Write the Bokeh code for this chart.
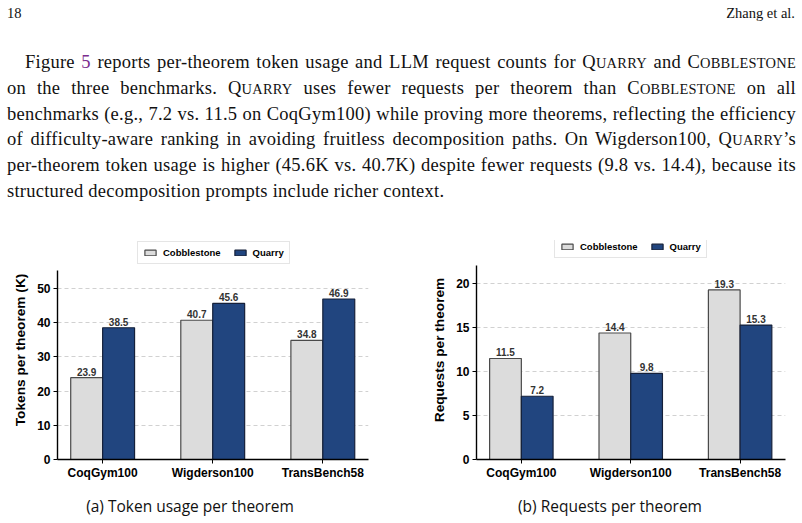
from bokeh.plotting import figure
from bokeh.models import (Range1d, FixedTicker, ColumnDataSource, LabelSet, Legend,
                          LegendItem, Div)
from bokeh.layouts import column, row
from bokeh.transform import dodge
from bokeh.core.properties import value
from bokeh.embed import file_html
from bokeh.resources import INLINE

# ---------------- data ----------------
benchmarks = ["CoqGym100", "Wigderson100", "TransBench58"]
series = ["Cobblestone", "Quarry"]
tokens_cobblestone = [23.9, 40.7, 34.8]
tokens_quarry = [38.5, 45.6, 46.9]
requests_cobblestone = [11.5, 14.4, 19.3]
requests_quarry = [7.2, 9.8, 15.3]
tokens_ticks = [0, 10, 20, 30, 40, 50]
requests_ticks = [0, 5, 10, 15, 20]
tokens_axis_max = 55.3
requests_axis_max = 22.1

COB_FILL = "#dcdcdc"
COB_EDGE = "#4a4a4a"
QUA_FILL = "#21457f"
QUA_EDGE = "#15203a"
SANS = "Liberation Sans"


def make_chart(cob, qua, yticks, ymax, axis_max, ylabel, frame_w, frame_h,
               bl, bt, br, bb, leg_xy):
    p = figure(output_backend="svg", toolbar_location=None,
               frame_width=frame_w, frame_height=frame_h,
               min_border_left=bl, min_border_top=bt, min_border_right=br,
               min_border_bottom=bb,
               x_range=Range1d(-0.41, 2.415), y_range=Range1d(0, ymax),
               background_fill_color="white", border_fill_color="white")
    p.outline_line_color = None
    src = ColumnDataSource(dict(x=list(range(len(benchmarks))), cob=cob, qua=qua,
                                cob_t=["%.1f" % v for v in cob],
                                qua_t=["%.1f" % v for v in qua]))
    w = 0.29
    r1 = p.vbar(x=dodge("x", -w / 2, range=p.x_range), top="cob", width=w, source=src,
                fill_color=COB_FILL, line_color=COB_EDGE, line_width=1.2)
    r2 = p.vbar(x=dodge("x", w / 2, range=p.x_range), top="qua", width=w, source=src,
                fill_color=QUA_FILL, line_color=QUA_EDGE, line_width=1.2)
    for col, ycol, off in (("cob_t", "cob", -w / 2), ("qua_t", "qua", w / 2)):
        p.add_layout(LabelSet(x=dodge("x", off, range=p.x_range), y=ycol, text=col,
                              source=src, text_align="center", text_baseline="bottom",
                              y_offset=2, text_font=value(SANS),
                              text_font_style="bold",
                              text_font_size="10px", text_color="#333333"))
    # axes
    p.xaxis.ticker = FixedTicker(ticks=list(range(len(benchmarks))))
    p.xaxis.major_label_overrides = {i: b for i, b in enumerate(benchmarks)}
    p.yaxis.ticker = FixedTicker(ticks=yticks)
    p.yaxis.bounds = (0, axis_max)
    for ax in (p.xaxis, p.yaxis):
        ax.axis_line_color = "black"
        ax.axis_line_width = 1.4
        ax.major_tick_line_color = "black"
        ax.major_tick_line_width = 1.0
        ax.major_tick_out = 4
        ax.major_tick_in = 0
        ax.minor_tick_line_color = None
        ax.major_label_text_font = SANS
        ax.major_label_text_font_style = "bold"
        ax.major_label_text_color = "black"
        ax.major_label_text_font_size = "12px"
        ax.major_label_standoff = 3
    p.xaxis.major_label_standoff = 2
    p.yaxis.axis_label = ylabel
    p.yaxis.axis_label_text_font = SANS
    p.yaxis.axis_label_text_font_style = "bold"
    p.yaxis.axis_label_text_font_size = "13.7px"
    p.yaxis.axis_label_text_color = "black"
    p.yaxis.axis_label_standoff = 6
    p.xgrid.grid_line_color = None
    p.ygrid.grid_line_color = "#cccccc"
    p.ygrid.grid_line_dash = "4 3"
    p.ygrid.grid_line_width = 0.9
    p.ygrid.level = "underlay"
    leg = Legend(items=[LegendItem(label=series[0], renderers=[r1]),
                        LegendItem(label=series[1], renderers=[r2])],
                 orientation="horizontal", location=leg_xy,
                 label_text_font=SANS, label_text_font_style="bold",
                 label_text_font_size="9.5px", label_text_color="black",
                 label_height=9, label_standoff=6, glyph_width=14, glyph_height=7,
                 spacing=12, padding=5, margin=0,
                 border_line_color="#cccccc", border_line_width=1,
                 background_fill_color="white", background_fill_alpha=1)
    p.add_layout(leg, "center")
    return p


# frames span y = 240..459 of the page; 0 sits at 459 in both charts
p1 = make_chart(tokens_cobblestone, tokens_quarry, tokens_ticks, 64.0, tokens_axis_max,
                "Tokens per theorem (K)", 311, 219, 57, 5, 33, 26, (80, 195))
p2 = make_chart(requests_cobblestone, requests_quarry, requests_ticks, 24.93,
                requests_axis_max, "Requests per theorem", 309, 219, 75, 5, 17, 26,
                (78, 201))


def small_caps(word):
    return '%s<span style="font-size:0.78em">%s</span>' % (word[0], word[1:].upper())


Q = small_caps("Quarry")
C = small_caps("Cobblestone")
lines = [
    'Figure <span style="color:#7b2d8e">5</span> reports per-theorem token usage and LLM request counts for %s and %s' % (Q, C),
    'on the three benchmarks. %s uses fewer requests per theorem than %s on all' % (Q, C),
    'benchmarks (e.g., 7.2 vs. 11.5 on CoqGym100) while proving more theorems, reflecting the efficiency',
    'of difficulty-aware ranking in avoiding fruitless decomposition paths. On Wigderson100, %s&rsquo;s' % Q,
    'per-theorem token usage is higher (45.6K vs. 40.7K) despite fewer requests (9.8 vs. 14.4), because its',
    'structured decomposition prompts include richer context.',
]
line_html = ""
for i, ln in enumerate(lines):
    last = i == len(lines) - 1
    style = "white-space:nowrap;"
    if not last:
        style += "text-align:justify;text-align-last:justify;"
    if i == 0:
        style += "text-indent:18px;"
    line_html += '<div style="%s">%s</div>' % (style, ln)

top_html = (
    '<div style="position:relative;width:802px;height:235px;font-family:\'Liberation Serif\',serif;color:#111;">'
    '<div style="position:absolute;left:7px;top:4px;font-size:14.5px;line-height:18px;">18</div>'
    '<div style="position:absolute;right:7px;top:4px;font-size:14.5px;line-height:18px;">Zhang et al.</div>'
    '<div style="position:absolute;left:7px;top:49.5px;width:789px;font-size:18.5px;line-height:25.2px;letter-spacing:0.25px;">'
    + line_html + '</div></div>'
)
top = Div(text=top_html, width=802, height=235, margin=(0, 0, 0, 0))

cap_html = (
    '<div style="position:relative;width:802px;height:38px;font-family:\'Open Sans\',sans-serif;font-size:15.5px;color:#111;">'
    '<div style="position:absolute;left:40px;width:300px;top:11px;text-align:center;line-height:21px;">(a) Token usage per theorem</div>'
    '<div style="position:absolute;left:460px;width:300px;top:11px;text-align:center;line-height:21px;">(b) Requests per theorem</div>'
    '</div>'
)
cap = Div(text=cap_html, width=802, height=38, margin=(0, 0, 0, 0))

layout = column(top, row(p1, p2, spacing=0), cap, spacing=0)
open("out.html", "w").write(file_html(layout, INLINE))
